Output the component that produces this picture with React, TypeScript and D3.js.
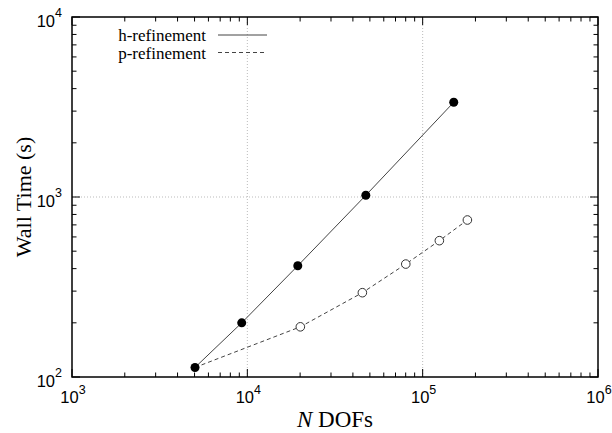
import React, { useEffect, useRef } from "react";
import * as d3 from "d3";

// h-refinement (filled markers)
const hDofs = [5030, 9290, 19400, 47400, 150400];
const hTime = [113, 200, 415, 1022, 3360];
// p-refinement (open markers)
const pDofs = [5030, 20060, 45300, 80100, 124500, 179900];
const pTime = [113, 190, 294, 424, 572, 745];

const xMajor = [1e3, 1e4, 1e5, 1e6];
const yMajor = [1e2, 1e3, 1e4];
const xExp = ["3", "4", "5", "6"];
const yExp = ["2", "3", "4"];

const W = 612;
const H = 433;
const margin = { top: 17, right: 14, bottom: 56, left: 72 };

const minorTicks = (majors: number[]) => {
  const out: number[] = [];
  for (let i = 0; i < majors.length - 1; i++) {
    for (let k = 2; k <= 9; k++) out.push(majors[i] * k);
  }
  return out;
};

const App = () => {
  const svgRef = useRef<SVGSVGElement>(null);

  useEffect(() => {
    const svg = d3.select(svgRef.current);
    svg.selectAll("*").remove();

    const x = d3
      .scaleLog()
      .domain([1e3, 1e6])
      .range([margin.left, W - margin.right]);
    const y = d3
      .scaleLog()
      .domain([1e2, 1e4])
      .range([H - margin.bottom, margin.top]);

    const [x0, x1] = x.range();
    const [y0, y1] = y.range();

    // grid
    const grid = svg.append("g").attr("stroke", "#bbb").attr("stroke-dasharray", "1,2");
    grid
      .selectAll(".gx")
      .data(xMajor.slice(1, -1))
      .join("line")
      .attr("x1", (d) => x(d))
      .attr("x2", (d) => x(d))
      .attr("y1", y0)
      .attr("y2", y1);
    grid
      .selectAll(".gy")
      .data(yMajor.slice(1, -1))
      .join("line")
      .attr("x1", x0)
      .attr("x2", x1)
      .attr("y1", (d) => y(d))
      .attr("y2", (d) => y(d));

    // ticks on all four sides, pointing inward
    const ticks = svg.append("g").attr("stroke", "#000").attr("stroke-width", 1);
    const xm = minorTicks(xMajor);
    const ym = minorTicks(yMajor);
    const tickSet = [
      ...xMajor.map((v) => ({ v, len: 8, axis: "x" })),
      ...xm.map((v) => ({ v, len: 4.5, axis: "x" })),
      ...yMajor.map((v) => ({ v, len: 8, axis: "y" })),
      ...ym.map((v) => ({ v, len: 4.5, axis: "y" })),
    ];
    tickSet.forEach((t) => {
      if (t.axis === "x") {
        const px = x(t.v);
        ticks.append("line").attr("x1", px).attr("x2", px).attr("y1", y0).attr("y2", y0 - t.len);
        ticks.append("line").attr("x1", px).attr("x2", px).attr("y1", y1).attr("y2", y1 + t.len);
      } else {
        const py = y(t.v);
        ticks.append("line").attr("y1", py).attr("y2", py).attr("x1", x0).attr("x2", x0 + t.len);
        ticks.append("line").attr("y1", py).attr("y2", py).attr("x1", x1).attr("x2", x1 - t.len);
      }
    });

    // frame
    svg
      .append("rect")
      .attr("x", x0)
      .attr("y", y1)
      .attr("width", x1 - x0)
      .attr("height", y0 - y1)
      .attr("fill", "none")
      .attr("stroke", "#000")
      .attr("stroke-width", 1.5);

    // tick labels
    const lab = svg
      .append("g")
      .attr("font-family", "Liberation Sans, Arial, sans-serif")
      .attr("font-size", 16.5)
      .attr("fill", "#000");
    xMajor.forEach((v, i) => {
      const t = lab
        .append("text")
        .attr("x", x(v) + 1)
        .attr("y", y0 + 26)
        .attr("text-anchor", "middle");
      t.append("tspan").text("10");
      t.append("tspan").attr("dy", -9.5).attr("font-size", 12.5).text(xExp[i]);
    });
    yMajor.forEach((v, i) => {
      const t = lab
        .append("text")
        .attr("x", x0 - 10)
        .attr("y", y(v) + 9.5)
        .attr("text-anchor", "end");
      t.append("tspan").text("10");
      t.append("tspan").attr("dy", -9.5).attr("font-size", 12.5).text(yExp[i]);
    });

    // axis titles
    const title = svg
      .append("g")
      .attr("font-family", "Liberation Serif, Times New Roman, serif")
      .attr("font-size", 22)
      .attr("fill", "#000");
    const xt = title
      .append("text")
      .attr("x", (x0 + x1) / 2)
      .attr("y", H - 6)
      .attr("font-size", 23)
      .attr("text-anchor", "middle");
    xt.append("tspan").attr("font-style", "italic").text("N");
    xt.append("tspan").text(" DOFs");
    title
      .append("text")
      .attr("transform", `translate(31,${(y0 + y1) / 2}) rotate(-90)`)
      .attr("text-anchor", "middle")
      .text("Wall Time (s)");

    // lines
    const line = d3
      .line<[number, number]>()
      .x((d) => x(d[0]))
      .y((d) => y(d[1]));
    const hData: [number, number][] = hDofs.map((d, i) => [d, hTime[i]]);
    const pData: [number, number][] = pDofs.map((d, i) => [d, pTime[i]]);

    svg
      .append("path")
      .attr("d", line(pData))
      .attr("fill", "none")
      .attr("stroke", "#444")
      .attr("stroke-width", 1)
      .attr("stroke-dasharray", "4,3");
    svg
      .append("path")
      .attr("d", line(hData))
      .attr("fill", "none")
      .attr("stroke", "#444")
      .attr("stroke-width", 1);

    svg
      .selectAll(".pm")
      .data(pData.slice(1))
      .join("circle")
      .attr("cx", (d) => x(d[0]))
      .attr("cy", (d) => y(d[1]))
      .attr("r", 4.3)
      .attr("fill", "#fff")
      .attr("stroke", "#333")
      .attr("stroke-width", 1);
    svg
      .selectAll(".hm")
      .data(hData)
      .join("circle")
      .attr("cx", (d) => x(d[0]))
      .attr("cy", (d) => y(d[1]))
      .attr("r", 4.5)
      .attr("fill", "#000");

    // legend
    const leg = svg
      .append("g")
      .attr("font-family", "Liberation Serif, Times New Roman, serif")
      .attr("font-size", 17)
      .attr("fill", "#000");
    const legendItems = [
      { label: "h-refinement", dash: null as string | null },
      { label: "p-refinement", dash: "4,3" },
    ];
    legendItems.forEach((it, i) => {
      const ly = 35 + i * 17.5;
      leg
        .append("text")
        .attr("x", 206)
        .attr("y", ly + 6)
        .attr("text-anchor", "end")
        .text(it.label);
      leg
        .append("line")
        .attr("x1", 218)
        .attr("x2", 267)
        .attr("y1", ly)
        .attr("y2", ly)
        .attr("stroke", "#444")
        .attr("stroke-width", 1)
        .attr("stroke-dasharray", it.dash);
    });
  }, []);

  return (
    <svg
      ref={svgRef}
      width={W}
      height={H}
      style={{ position: "absolute", left: 0, top: 0, background: "#fff" }}
    />
  );
};

export default App;
